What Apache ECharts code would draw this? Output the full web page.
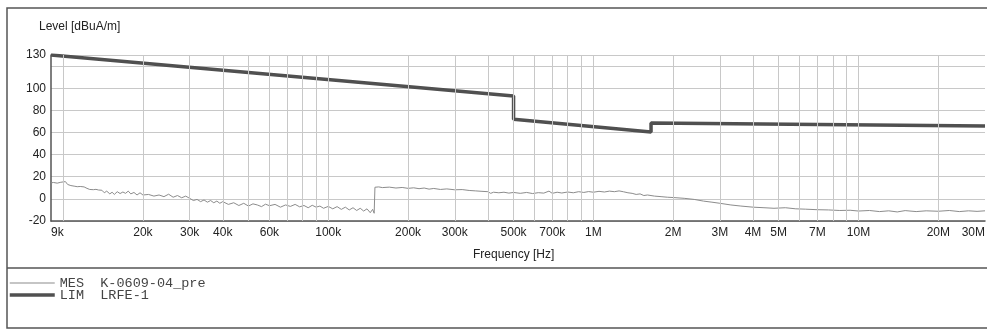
<!DOCTYPE html>
<html>
<head>
<meta charset="utf-8">
<script src="https://cdn.jsdelivr.net/npm/echarts@6/dist/echarts.min.js"></script>
<style>
html,body{margin:0;padding:0;background:#fff;}
#chart{width:987px;height:331px;}
</style>
</head>
<body>
<div id="chart"></div>
<script>
// ---- data ----
const limFreq  = [9000, 500000, 500000, 1650000, 1650000, 30000000];
const limLevel = [130, 93, 72, 60.5, 68.5, 65.8];

const mesFreq = [
 9000,9200,9500,9800,10000,10200,10400,10700,11000,11300,11600,12000,12300,12600,13000,13300,13600,14000,14300,14600,
 15000,15300,15600,16000,16400,16800,17200,17600,18000,18500,19000,19500,20000,
 21000,22000,23000,24000,25000,26000,27000,28000,29000,30000,31000,32000,33000,34000,35000,36000,37000,38000,39000,40000,
 42000,44000,46000,48000,50000,52000,54000,56000,58000,60000,63000,66000,69000,72000,75000,78000,81000,84000,87000,90000,93000,96000,100000,
 104000,108000,112000,116000,120000,124000,128000,132000,136000,140000,144000,147000,149000,150000,
 155000,160000,170000,180000,190000,200000,210000,220000,230000,240000,250000,265000,280000,300000,320000,340000,360000,380000,400000,410000,420000,440000,460000,480000,500000,
 530000,560000,590000,620000,650000,680000,700000,730000,760000,800000,840000,880000,920000,960000,1000000,
 1050000,1100000,1150000,1200000,1250000,1300000,1350000,1400000,1450000,1500000,1550000,1600000,1700000,1800000,1900000,2000000,
 2200000,2400000,2600000,2800000,3000000,3300000,3600000,4000000,4400000,4800000,5300000,5800000,6300000,7000000,7700000,8500000,9300000,10000000,
 11000000,12000000,13000000,14000000,15000000,16500000,18000000,20000000,22000000,24000000,26000000,28000000,30000000
];
const mesLevel = [
 14.5,14.8,14.2,15,15.3,15.6,13,12,11.5,11,11.2,10.8,9.5,8.5,8.3,8.6,8,7.8,5.5,7,
 4.5,6,4,6.5,4.8,6.2,5,7,4.5,5.8,3.5,5.5,3.5,
 4,2.5,3.5,2,4.2,1.5,3,1,2.5,0.5,-1.5,-0.5,-2.5,-1,-3,-1.5,-3.5,-2,-4,-2.5,
 -5,-3.5,-6,-4,-6.5,-4.5,-5.5,-7,-4.8,-6.2,-5,-7.5,-5.5,-6.8,-5,-7.2,-6,-8,-5.8,-7.5,-6.5,-8.5,-6.8,
 -9,-7,-9.5,-7.5,-10,-8,-10.5,-8.5,-11,-9,-12.5,-9.5,-13,10.5,
 10.8,10.2,10.6,9.8,10.3,9.5,10,9.2,9.8,8.8,9.4,8.5,9,8.2,8.4,7.6,7.2,6.8,6.5,5,6,5.5,6,5.2,5.8,
 5,5.8,4.8,5.6,5.2,7,5,6,5.3,6.2,5.5,6.5,5.8,6.6,6,
 6.8,6.2,7,6.5,7.2,6.4,5.5,5,4,4.5,3,3.5,2.5,2,1.5,1.2,
 0.5,-0.5,-2,-3,-4,-5.5,-6.5,-7.5,-8,-8.5,-8,-9,-9.3,-9.8,-10,-10.5,-10.3,-11,
 -10.5,-11.5,-10.8,-11.8,-10.6,-11.5,-10.8,-11.2,-10.5,-11.5,-10.8,-11.3,-10.8
];

const gridFreqs = [10000,20000,30000,40000,50000,60000,70000,80000,90000,100000,
 200000,300000,400000,500000,600000,700000,800000,900000,1000000,
 2000000,3000000,4000000,5000000,6000000,7000000,8000000,9000000,10000000,20000000];
const tickFreqs  = [9000,20000,30000,40000,60000,100000,200000,300000,500000,700000,1000000,2000000,3000000,4000000,5000000,7000000,10000000,20000000,30000000];
const tickLabels = ['9k','20k','30k','40k','60k','100k','200k','300k','500k','700k','1M','2M','3M','4M','5M','7M','10M','20M','30M'];

const yLabelValues = [-20,0,20,40,60,80,100,130];
const yGridValues  = [-20,0,20,40,60,80,100,120,130];

// ---- build ----
const GRID = '#c8c8c8';
const MES_COLOR = '#8c8c8c';
const LIM_COLOR = '#505050';
const splitColors = [];
for (let v = -20; v <= 130; v += 10) splitColors.push(yGridValues.includes(v) ? GRID : 'rgba(0,0,0,0)');

const chart = echarts.init(document.getElementById('chart'), null, {renderer: 'canvas'});
const legendNames = {MES: 'MES  K-0609-04_pre', LIM: 'LIM  LRFE-1'};

chart.setOption({
  animation: false,
  backgroundColor: '#fff',
  textStyle: {fontFamily: 'Liberation Sans, Arial, sans-serif'},
  grid: {left: 51, right: 2, top: 55, bottom: 110},
  xAxis: {
    type: 'log', logBase: 10, min: 9000, max: 30000000,
    axisLine: {show: true, onZero: false, lineStyle: {color: '#555', width: 1.5}},
    axisTick: {show: false}, axisLabel: {show: false},
    splitLine: {show: false}, minorSplitLine: {show: false}
  },
  yAxis: {
    type: 'value', min: -20, max: 130, interval: 10,
    axisLine: {show: true, lineStyle: {color: '#555', width: 1.5}},
    axisTick: {show: false},
    axisLabel: {
      color: '#222', fontSize: 12, margin: 5,
      formatter: v => yLabelValues.includes(v) ? String(v) : ''
    },
    splitLine: {show: true, lineStyle: {color: splitColors, width: 1}}
  },
  legend: {
    left: 8, top: 276, orient: 'vertical', padding: 0,
    itemWidth: 45, itemHeight: 10, itemGap: -2,
    selectedMode: false,
    itemStyle: {opacity: 0},
    data: [
      {name: 'MES', itemStyle: {opacity: 0}, lineStyle: {color: MES_COLOR, width: 1.2}},
      {name: 'LIM', itemStyle: {opacity: 0}, lineStyle: {color: LIM_COLOR, width: 3.5}}
    ],
    formatter: n => legendNames[n],
    textStyle: {fontFamily: 'Liberation Mono, monospace', fontSize: 13.5, color: '#444'}
  },
  graphic: [
    {type: 'rect', silent: true, shape: {x: 7, y: 8, width: 995, height: 320},
     style: {fill: 'none', stroke: '#555', lineWidth: 1.5}},
    {type: 'line', silent: true, shape: {x1: 7, y1: 268, x2: 995, y2: 268},
     style: {stroke: '#555', lineWidth: 1.5}},
    {type: 'text', left: 39, top: 21, silent: true,
     style: {text: 'Level [dBuA/m]', fontSize: 12, fill: '#222', fontFamily: 'Liberation Sans, Arial, sans-serif'}},
    {type: 'text', left: 473, top: 249, silent: true,
     style: {text: 'Frequency [Hz]', fontSize: 12, fill: '#222', fontFamily: 'Liberation Sans, Arial, sans-serif'}}
  ],
  series: [
    {
      name: 'grid', type: 'line', data: [], z: 1, silent: true,
      markLine: {
        silent: true, symbol: 'none', animation: false,
        lineStyle: {color: GRID, width: 1, type: 'solid'},
        label: {show: false},
        data: gridFreqs.map(f => ({xAxis: f}))
      }
    },
    {
      name: 'ticks', type: 'line', data: [], z: 1, silent: true,
      markLine: {
        silent: true, symbol: 'none', animation: false,
        lineStyle: {color: 'rgba(0,0,0,0)', width: 0},
        data: tickFreqs.map((f, i) => ({
          xAxis: f,
          label: {
            show: true, position: 'start', distance: 6,
            formatter: tickLabels[i], color: '#222', fontSize: 12,
            fontFamily: 'Liberation Sans, Arial, sans-serif',
            align: i === 0 ? 'left' : (i === tickFreqs.length - 1 ? 'right' : 'center')
          }
        }))
      }
    },
    {
      name: 'MES', type: 'line', symbol: 'none', z: 3,
      data: mesFreq.map((f, i) => [f, mesLevel[i]]),
      lineStyle: {color: MES_COLOR, width: 1},
      itemStyle: {color: MES_COLOR}
    },
    {
      name: 'LIM', type: 'line', symbol: 'none', z: 4,
      data: limFreq.map((f, i) => [f, limLevel[i]]),
      lineStyle: {color: LIM_COLOR, width: 3.5},
      itemStyle: {color: LIM_COLOR}
    }
  ]
});
</script>
</body>
</html>
